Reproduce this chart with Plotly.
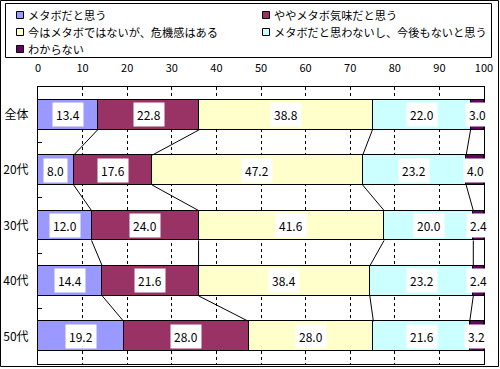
import plotly.graph_objects as go

categories = ["全体", "20代", "30代", "40代", "50代"]
series_names = [
    "メタボだと思う",
    "ややメタボ気味だと思う",
    "今はメタボではないが、危機感はある",
    "メタボだと思わないし、今後もないと思う",
    "わからない",
]
s1 = [13.4, 8.0, 12.0, 14.4, 19.2]
s2 = [22.8, 17.6, 24.0, 21.6, 28.0]
s3 = [38.8, 47.2, 41.6, 38.4, 28.0]
s4 = [22.0, 23.2, 20.0, 23.2, 21.6]
s5 = [3.0, 4.0, 2.4, 2.4, 3.2]
x_ticks = [0, 10, 20, 30, 40, 50, 60, 70, 80, 90, 100]

colors = ["#9999FF", "#993366", "#FFFFCC", "#CCFFFF", "#660066"]
series = [s1, s2, s3, s4, s5]
FONT = "Noto Sans CJK JP"

W, H = 500, 369
L, T, PW, PH = 38, 87, 446, 277
R = W - L - PW
B = H - T - PH
BW = 0.54


def px(xp):
    return (xp - L) / PW


def py(yp):
    return (T + PH - yp) / PH


ypos = list(range(len(categories)))
fig = go.Figure()
for name, vals, col in zip(series_names, series, colors):
    fig.add_trace(go.Bar(
        x=vals, y=ypos, orientation="h", name=name, width=BW,
        marker=dict(color=col, line=dict(color="black", width=1)),
        showlegend=False, hoverinfo="x+name",
    ))

# cumulative sums
cums = []
for i in range(len(categories)):
    c, row = 0.0, []
    for s in series:
        c += s[i]
        row.append(c)
    cums.append(row)

# series lines
lx, ly = [], []
for k in range(len(series) - 1):
    for i in range(len(categories) - 1):
        lx += [cums[i][k], cums[i + 1][k], None]
        ly += [i + BW / 2, i + 1 - BW / 2, None]
fig.add_trace(go.Scatter(x=lx, y=ly, mode="lines", line=dict(color="black", width=1),
                         showlegend=False, hoverinfo="skip"))

annotations = []
for i in range(len(categories)):
    start = 0.0
    for s in series:
        v = s[i]
        annotations.append(dict(
            x=start + v / 2, y=i, xref="x", yref="y", text=f"{v:.1f}",
            showarrow=False, bgcolor="white", borderpad=3,
            font=dict(family=FONT, size=12, color="black"),
        ))
        start += v

# manual legend
shapes = []
shapes.append(dict(type="rect", xref="paper", yref="paper",
                   x0=px(5.5), x1=px(491.5), y0=py(3.5), y1=py(57.5),
                   line=dict(color="black", width=1), fillcolor="white", layer="above"))
leg_pos = [(16, 15), (262, 15), (16, 32), (262, 32), (16, 49)]
for (lxp, lyp), name, col in zip(leg_pos, series_names, colors):
    shapes.append(dict(type="rect", xref="paper", yref="paper",
                       x0=px(lxp + 0.5), x1=px(lxp + 7.5), y0=py(lyp - 3.5), y1=py(lyp + 3.5),
                       line=dict(color="black", width=1), fillcolor=col, layer="above"))
    annotations.append(dict(x=px(lxp + 10), y=py(lyp), xref="paper", yref="paper",
                            text=name, showarrow=False, xanchor="left", yanchor="middle",
                            font=dict(family=FONT, size=11.2, color="black")))

# outer frame
shapes.append(dict(type="rect", xref="paper", yref="paper",
                   x0=px(0.5), x1=px(498.5), y0=py(0.5), y1=py(366.5),
                   line=dict(color="black", width=1), layer="above"))

fig.update_layout(
    width=W, height=H, autosize=False,
    margin=dict(l=L, r=R, t=T, b=B, pad=0),
    barmode="stack", bargap=0,
    plot_bgcolor="white", paper_bgcolor="white",
    font=dict(family=FONT, size=12, color="black"),
    annotations=annotations, shapes=shapes,
    xaxis=dict(
        side="top", range=[0, 100], tickvals=x_ticks, ticks="",
        showgrid=True, gridcolor="black", gridwidth=1, griddash="3px,3px",
        showline=True, linecolor="black", linewidth=1, mirror=True,
        zeroline=False, automargin=False, tickfont=dict(size=11),
        ticklabelstandoff=10,
    ),
    yaxis=dict(
        range=[len(categories) - 0.5, -0.5], tickvals=ypos, ticktext=categories,
        ticks="", showgrid=False, zeroline=False,
        showline=True, linecolor="black", linewidth=1, mirror=True,
        automargin=False, tickfont=dict(size=12), ticklabelstandoff=6,
        minor=dict(tickvals=[0.5, 1.5, 2.5, 3.5], ticks="inside", ticklen=4,
                   tickcolor="black", showgrid=False),
    ),
)

fig.write_html("out.html", post_script="document.body.style.margin='0';",
               config={"displayModeBar": False})
